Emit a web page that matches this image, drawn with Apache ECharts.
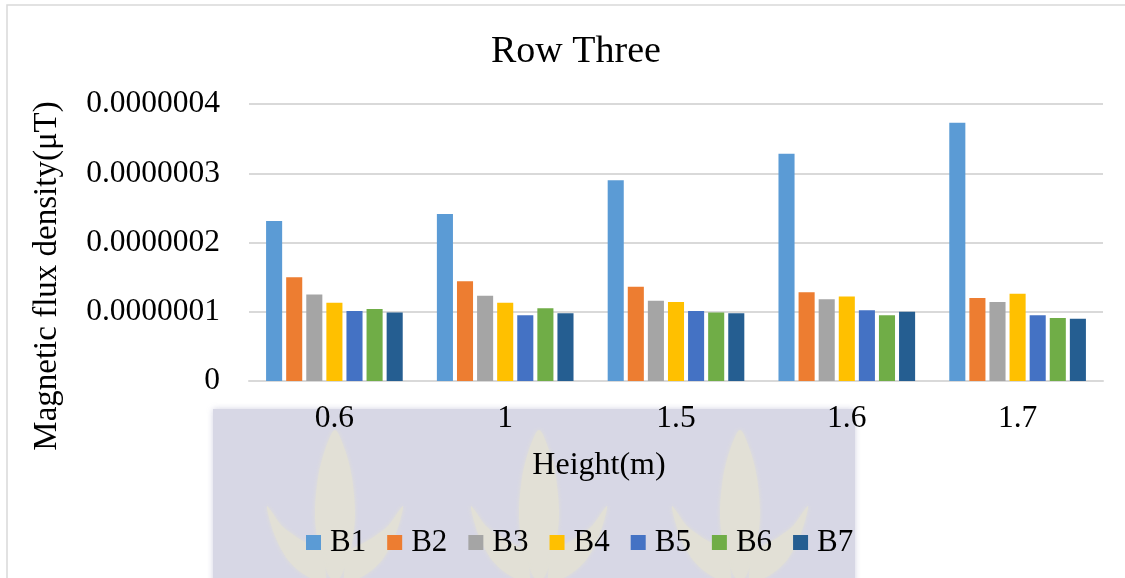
<!DOCTYPE html>
<html>
<head>
<meta charset="utf-8">
<script src="https://cdn.jsdelivr.net/npm/echarts@6/dist/echarts.min.js"></script>
<style>
  html, body { margin: 0; padding: 0; background: #ffffff; }
  #chart { width: 1125px; height: 578px; }
</style>
</head>
<body>
<div id="chart"></div>
<script>
// Measurement heights (m)
const heights = ['0.6', '1', '1.5', '1.6', '1.7'];

// Magnetic flux density per sensor at each height
const B1 = [2.31e-7, 2.41e-7, 2.90e-7, 3.28e-7, 3.73e-7];
const B2 = [1.50e-7, 1.44e-7, 1.36e-7, 1.28e-7, 1.20e-7];
const B3 = [1.25e-7, 1.23e-7, 1.16e-7, 1.18e-7, 1.14e-7];
const B4 = [1.13e-7, 1.13e-7, 1.14e-7, 1.22e-7, 1.26e-7];
const B5 = [1.01e-7, 0.95e-7, 1.01e-7, 1.02e-7, 0.95e-7];
const B6 = [1.04e-7, 1.05e-7, 0.99e-7, 0.95e-7, 0.91e-7];
const B7 = [0.99e-7, 0.98e-7, 0.98e-7, 1.00e-7, 0.90e-7];

const seriesNames = ['B1', 'B2', 'B3', 'B4', 'B5', 'B6', 'B7'];
const seriesData = [B1, B2, B3, B4, B5, B6, B7];
const colors = ['#5B9BD5', '#ED7D31', '#A5A5A5', '#FFC000', '#4472C4', '#70AD47', '#255E91'];

const FONT = '"Liberation Serif", "DejaVu Serif", serif';

// Decorative backdrop behind the lower part of the chart: flame-like leaves
const spikePts = [[0,0],[10,20],[17,48],[20,85],[16,118],[7,144],[0,152],[-7,144],[-16,118],[-20,85],[-17,48],[-10,20]];
const lobePts = [[-10,152],[-30,145],[-47,130],[-60,106],[-68,76],[-53,96],[-37,108],[-23,116],[-14,121]];

function leafShapes(cx) {
  const fill = '#e2e0d6';
  const mirror = lobePts.map(function (p) { return [-p[0], p[1]]; });
  return [spikePts, lobePts, mirror].map(function (pts) {
    return {
      type: 'polygon', x: cx, y: 430, z: -1, silent: true,
      shape: { points: pts, smooth: 0.3 },
      style: { fill: fill, shadowBlur: 4, shadowColor: '#e2e0d6' }
    };
  });
}

const chart = echarts.init(document.getElementById('chart'), null, { renderer: 'canvas' });

chart.setOption({
  backgroundColor: '#ffffff',
  animation: false,
  color: colors,
  title: {
    text: 'Row Three',
    left: 486,
    top: 28,
    textStyle: { fontFamily: FONT, fontSize: 38, fontWeight: 'normal', color: '#000000' }
  },
  grid: { left: 249, right: 22, top: 104, bottom: 197, containLabel: false },
  xAxis: {
    type: 'category',
    data: heights,
    axisLine: { show: true, lineStyle: { color: '#d9d9d9', width: 2 } },
    axisTick: { show: false },
    axisLabel: { fontFamily: FONT, fontSize: 31.5, color: '#000000', margin: 22 }
  },
  yAxis: {
    type: 'value',
    min: 0,
    max: 4e-7,
    interval: 1e-7,
    axisLine: { show: false },
    axisTick: { show: false },
    splitLine: { lineStyle: { color: '#d9d9d9', width: 2 } },
    axisLabel: {
      fontFamily: FONT, fontSize: 31.5, color: '#000000', margin: 29,
      formatter: function (v) { return v === 0 ? '0' : v.toFixed(7); }
    }
  },
  legend: {
    data: seriesNames,
    left: 301,
    top: 522,
    itemWidth: 15,
    itemHeight: 15,
    itemGap: 21,
    icon: 'rect',
    textStyle: { fontFamily: FONT, fontSize: 31, color: '#000000', padding: [0, 0, 0, 4] }
  },
  graphic: [
    { type: 'rect', z: -2, silent: true,
      shape: { x: 7, y: 5, width: 1200, height: 700 },
      style: { fill: 'none', stroke: '#d9d9d9', lineWidth: 1.5 } },
    { type: 'rect', z: -2, silent: true,
      shape: { x: 213, y: 409, width: 642, height: 180 },
      style: { fill: '#d7d7e5', shadowBlur: 6, shadowColor: 'rgba(200,200,220,0.8)' } }
  ].concat(leafShapes(335), leafShapes(539), leafShapes(740)).concat([
    { type: 'text', silent: true,
      x: 47, y: 276, rotation: Math.PI / 2,
      style: { text: 'Magnetic flux density(μT)', fontFamily: FONT, fontSize: 33,
               fill: '#000000', align: 'center', verticalAlign: 'middle' } },
    { type: 'text', silent: true,
      x: 599, y: 466,
      style: { text: 'Height(m)', fontFamily: FONT, fontSize: 32,
               fill: '#000000', align: 'center', verticalAlign: 'middle' } }
  ]),
  series: seriesNames.map(function (name, i) {
    return {
      name: name,
      type: 'bar',
      data: seriesData[i],
      barGap: '25%',
      barCategoryGap: '20%',
      itemStyle: { color: colors[i] }
    };
  })
});
</script>
</body>
</html>
